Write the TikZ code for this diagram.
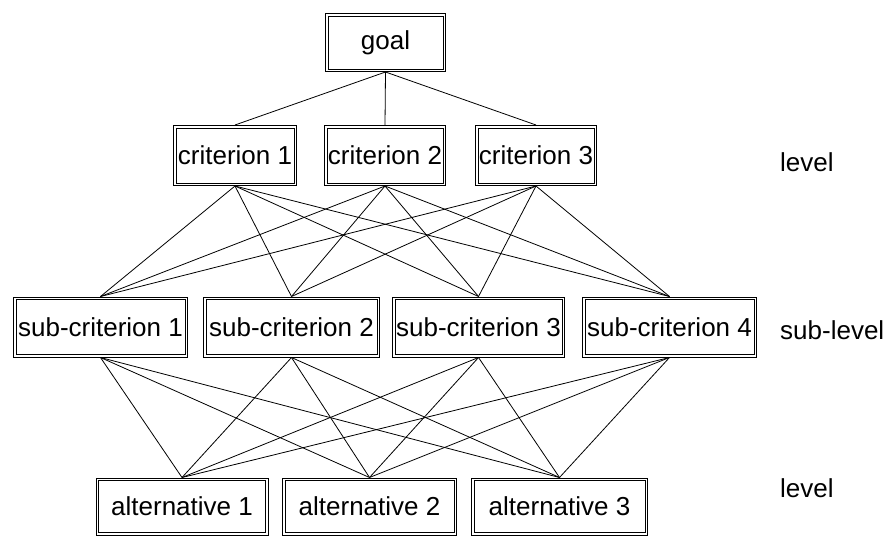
\documentclass[tikz,border=0pt]{standalone}
\usepackage{fontspec}
\setmainfont{Liberation Sans}
\begin{document}
\begin{tikzpicture}[x=1pt,y=-1pt,
  box/.style={draw=black, line width=1pt,
    inner sep=0pt, font=\fontsize{26}{28}\selectfont, minimum height=60pt},
  innerline/.style={draw=black, line width=1pt},
  lvl/.style={anchor=west, inner sep=0pt, font=\fontsize{26}{28}\selectfont},
  link/.style={line width=0.8pt}]
\useasboundingbox (0,0) rectangle (889,536);
\node[box, minimum width=120pt, minimum height=58pt] (goal) at (385.5,42.5) {goal};
\node[box, minimum width=123pt] (c1) at (235,155.5) {criterion 1};
\node[box, minimum width=121pt] (c2) at (385,155.5) {criterion 2};
\node[box, minimum width=121pt] (c3) at (536,155.5) {criterion 3};
\node[box, minimum width=174pt] (s1) at (100.5,327) {sub-criterion 1};
\node[box, minimum width=176pt] (s2) at (291.5,327) {sub-criterion 2};
\node[box, minimum width=172pt] (s3) at (478.5,327) {sub-criterion 3};
\node[box, minimum width=174pt] (s4) at (669.5,327) {sub-criterion 4};
\node[box, minimum width=172pt, minimum height=57pt] (a1) at (182,506.5) {alternative 1};
\node[box, minimum width=174pt, minimum height=57pt] (a2) at (369.5,506.5) {alternative 2};
\node[box, minimum width=176pt, minimum height=57pt] (a3) at (559.5,506.5) {alternative 3};
\foreach \n in {goal,c1,c2,c3,s1,s2,s3,s4,a1,a2,a3}
  \draw[innerline] ([shift={(3,3)}]\n.north west) rectangle ([shift={(-3,-3)}]\n.south east);
\node[lvl] (l1) at (780,162) {level};
\node[lvl] (l2) at (780,330) {sub-level};
\node[lvl] (l3) at (780,488) {level};
\foreach \c in {c1,c2,c3} \draw[link] (goal.south) -- (\c.north);
\foreach \c in {c1,c2,c3} \foreach \s in {s1,s2,s3,s4} \draw[link] (\c.south) -- (\s.north);
\foreach \s in {s1,s2,s3,s4} \foreach \a in {a1,a2,a3} \draw[link] (\s.south) -- (\a.north);
\end{tikzpicture}
\end{document}
